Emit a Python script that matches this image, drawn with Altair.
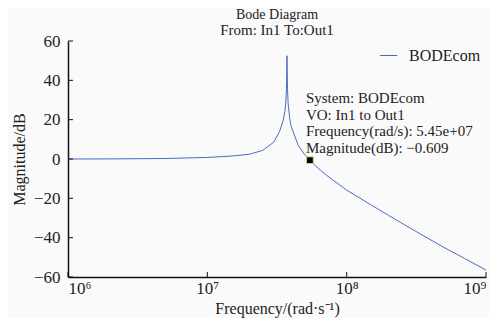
import altair as alt
import pandas as pd

freq = [1e6, 2e6, 5e6, 1e7, 1.5e7, 2e7, 2.5e7, 3e7, 3.3e7, 3.5e7, 3.6e7, 3.65e7,
        3.7e7, 3.73e7, 3.76e7, 3.8e7, 3.9e7, 4e7, 4.5e7, 5e7, 5.45e7, 6e7, 7e7,
        8e7, 1e8, 1.5e8, 2e8, 3e8, 5e8, 7e8, 1e9]
mag = [0.0, 0.05, 0.25, 0.8, 1.5, 2.4, 4.4, 8.6, 14.0, 19.5, 24.0, 28.0,
       36.0, 52.5, 36.0, 28.4, 20.6, 16.5, 6.8, 2.2, -0.609, -3.6, -7.7,
       -10.8, -15.8, -23.4, -28.7, -36.0, -45.0, -50.5, -56.5]
series_name = "BODEcom"

marker_freq = [5.45e7]
marker_mag = [-0.609]
marker_text = [["System: BODEcom", "VO: In1 to Out1",
                "Frequency(rad/s): 5.45e+07", "Magnitude(dB): \u22120.609"]]

x_ticks = [1e6, 1e7, 1e8, 1e9]
y_ticks = [-60, -40, -20, 0, 20, 40, 60]

FONT = "Liberation Serif"
W, H = 418, 236

df = pd.DataFrame({"freq": freq, "mag": mag, "series": series_name})
mk = pd.DataFrame({"freq": marker_freq, "mag": marker_mag, "label": marker_text})
xt = pd.DataFrame({"freq": x_ticks})
yt = pd.DataFrame({"mag": y_ticks})

xscale = alt.Scale(type="log", domain=[1e6, 1e9])
yscale = alt.Scale(domain=[-60, 60])

x_axis = alt.Axis(values=x_ticks, tickSize=0, ticks=False, grid=False, labelOverlap=False,
                  labelExpr="'10' + ['\u2076','\u2077','\u2078','\u2079'][round(log(datum.value)/LN10)-6]",
                  labelPadding=3, title="Frequency/(rad\u00b7s\u207b\u00b9)", titlePadding=4)
y_axis = alt.Axis(values=y_ticks, tickSize=0, ticks=False, grid=False, labelOverlap=False,
                  labelPadding=8, title="Magnitude/dB", titlePadding=6)

X = alt.X("freq:Q", scale=xscale, axis=x_axis)
Y = alt.Y("mag:Q", scale=yscale, axis=y_axis)

line = alt.Chart(df).mark_line(strokeWidth=1, clip=True).encode(
    x=X, y=Y,
    color=alt.Color("series:N", scale=alt.Scale(range=["#4a6cc0"]),
                    legend=alt.Legend(title=None, orient="none", legendX=311, legendY=5,
                                      symbolType="stroke", symbolSize=300,
                                      symbolStrokeWidth=1, labelFont=FONT,
                                      labelFontSize=16, labelColor="#222",
                                      labelOffset=11)),
)

marker = alt.Chart(mk).mark_point(shape="square", size=45, filled=True,
                                  fill="black", stroke="#d8cf80", strokeWidth=1,
                                  opacity=1).encode(x=X, y=Y)

ann = alt.Chart(mk).mark_text(align="left", baseline="alphabetic", dx=-4, dy=-57,
                              font=FONT, fontSize=15, lineHeight=16.5,
                              color="#222").encode(x=X, y=Y, text="label")

xtick = alt.Chart(xt).mark_rule(color="#111", strokeWidth=1).encode(
    x=X, y=alt.value(H), y2=alt.value(H - 5))
ytick = alt.Chart(yt).mark_rule(color="#111", strokeWidth=1).encode(
    y=Y, x=alt.value(0), x2=alt.value(5))

chart = alt.layer(line, xtick, ytick, marker, ann).properties(
    width=W, height=H,
    title=alt.TitleParams("Bode Diagram", subtitle="From: In1 To:Out1", anchor="middle",
                          font=FONT, fontSize=14, fontWeight="normal",
                          color="#222", subtitleFont=FONT, subtitleFontSize=15,
                          subtitleColor="#222", subtitlePadding=1, offset=-6),
    autosize=alt.AutoSizeParams(type="none"),
    padding={"left": 60, "top": 33, "right": 3, "bottom": 41},
    background="#fafafa",
).configure_view(stroke=None).configure_axis(
    domainColor="#111", domainWidth=1.5, labelFont=FONT, labelFontSize=17,
    labelColor="#222", titleFont=FONT, titleFontSize=16, titleFontWeight="normal",
    titleColor="#222",
)

chart.save("out.html", embed_options={"renderer": "svg", "actions": False})
